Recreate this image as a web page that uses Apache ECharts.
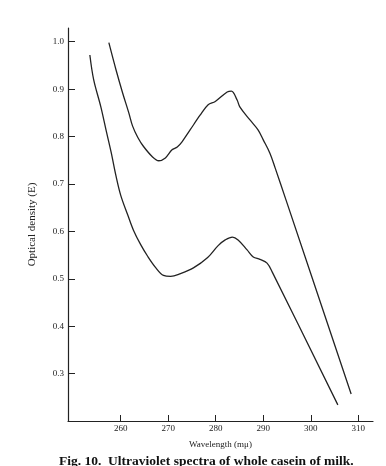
<!DOCTYPE html>
<html>
<head>
<meta charset="utf-8">
<script src="https://cdn.jsdelivr.net/npm/echarts@6/dist/echarts.min.js"></script>
<style>
    html, body { margin: 0; padding: 0; background: #fff; }
    #chart { width: 386px; height: 466px; }
</style>
</head>
<body>
<div id="chart"></div>
<script>
    // curve a (upper)
    var waveA = [257.5, 259.0, 260.4, 261.7, 262.5, 263.6, 264.8, 266.7, 268.0, 269.4, 270.8, 271.9, 272.9,
                 274.6, 276.7, 278.4, 279.9, 282.4, 283.3, 284.5, 285.1, 287.2, 288.9, 290.0, 291.4, 292.5, 294.8, 308.5];
    var odA   = [0.998, 0.941, 0.892, 0.850, 0.822, 0.798, 0.779, 0.757, 0.749, 0.755, 0.772, 0.778, 0.789,
                 0.814, 0.845, 0.867, 0.874, 0.894, 0.896, 0.877, 0.862, 0.835, 0.814, 0.793, 0.765, 0.734, 0.666, 0.257];
    // curve b (lower)
    var waveB = [253.5, 254.3, 255.8, 256.9, 258.0, 259.0, 260.0, 261.5, 262.7, 264.2, 265.7, 267.4, 269.0,
                 270.5, 272.6, 275.3, 278.3, 280.5, 282.0, 283.5, 284.7, 286.6, 287.9, 289.3, 290.8, 291.9, 305.7];
    var odB   = [0.972, 0.920, 0.863, 0.814, 0.766, 0.717, 0.676, 0.634, 0.602, 0.572, 0.547, 0.523, 0.507,
                 0.505, 0.511, 0.523, 0.545, 0.570, 0.582, 0.588, 0.582, 0.561, 0.546, 0.541, 0.533, 0.514, 0.234];
    var xTicks = [260, 270, 280, 290, 300, 310];
    var yTicks = [0.3, 0.4, 0.5, 0.6, 0.7, 0.8, 0.9, 1.0];
    var peakA = 18, peakB = 19;

    var font = 'Liberation Serif';
    var ink = '#222';

    function pairs(xs, ys, peak, name){
        var out = [];
        for (var i = 0; i < xs.length; i++) {
            var p = { value: [xs[i], ys[i]] };
            if (i === peak) {
                p.label = { show: true, formatter: name, position: 'top', distance: 2,
                            fontFamily: font, fontSize: 10, fontWeight: 'bold', color: ink };
            }
            out.push(p);
        }
        return out;
    }

    var myChart = echarts.init(document.getElementById('chart'));
    var option = {
        animation: false,
        backgroundColor: '#fff',
        grid: { left: 68, right: 13, top: 28, bottom: 45 },
        title: {
            text: 'Fig. 10.  Ultraviolet spectra of whole casein of milk.',
            left: 54, top: 450,
            textStyle: { fontFamily: font, fontSize: 13.5, fontWeight: 'bold', color: '#111' }
        },
        xAxis: {
            type: 'value', min: 248.9, max: 313.1,
            name: 'Wavelength (mμ)', nameLocation: 'middle', nameGap: 19,
            nameTextStyle: { fontFamily: font, fontSize: 9, color: ink },
            axisLine: { lineStyle: { color: ink, width: 1.2 } },
            axisTick: { inside: true, length: 6, customValues: xTicks, lineStyle: { color: ink } },
            axisLabel: { customValues: xTicks, margin: 3, fontFamily: font, fontSize: 9, color: ink },
            splitLine: { show: false }
        },
        yAxis: {
            type: 'value', min: 0.2, max: 1.029,
            name: 'Optical density (E)', nameLocation: 'middle', nameGap: 30,
            nameTextStyle: { fontFamily: font, fontSize: 11, color: ink },
            axisLine: { show: true, lineStyle: { color: ink, width: 1.2 } },
            axisTick: { show: true, inside: true, length: 7, customValues: yTicks, lineStyle: { color: ink } },
            axisLabel: { customValues: yTicks, margin: 4, fontFamily: font, fontSize: 9, color: ink,
                         formatter: function(v){ return v.toFixed(1); } },
            splitLine: { show: false }
        },
        series: [
            {
                name: 'a', type: 'line', smooth: 0.35, symbol: 'none',
                lineStyle: { color: ink, width: 1.3 },
                data: pairs(waveA, odA, peakA, 'a')
            },
            {
                name: 'b', type: 'line', smooth: 0.35, symbol: 'none',
                lineStyle: { color: ink, width: 1.3 },
                data: pairs(waveB, odB, peakB, 'b')
            }
        ]
    };
    myChart.setOption(option);
</script>
</body>
</html>
